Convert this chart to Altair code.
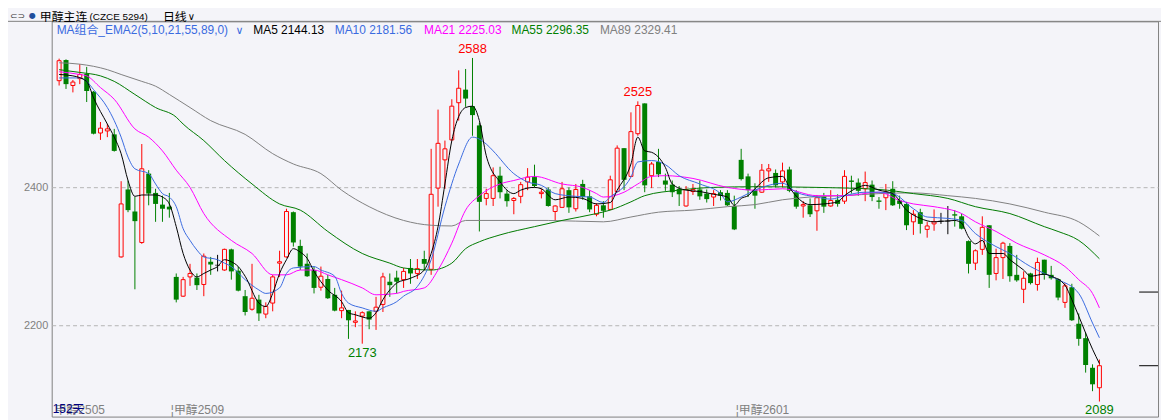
import altair as alt
import pandas as pd

# ---------------- data: daily candles, index 1..152 ----------------
opens = [2555, 2585, 2548, 2558, 2565, 2539, 2479, 2482, 2477, 2299,
         2397, 2365, 2320, 2420, 2392, 2375, 2372, 2270, 2242, 2270,
         2269, 2259, 2292, 2287, 2280, 2310, 2279, 2242, 2223, 2237,
         2216, 2232, 2290, 2299, 2364, 2315, 2289, 2280, 2255, 2267,
         2244, 2221, 2222, 2204, 2213, 2220, 2220, 2230, 2263, 2269,
         2266, 2283, 2275, 2296, 2281, 2399, 2440, 2469, 2523, 2542,
         2518, 2490, 2384, 2384, 2417, 2391, 2381, 2387, 2408, 2415,
         2391, 2397, 2365, 2371, 2396, 2369, 2405, 2387, 2361, 2374,
         2368, 2394, 2457, 2416, 2478, 2522, 2417, 2437, 2410, 2404,
         2398, 2373, 2394, 2397, 2391, 2386, 2393, 2392, 2373, 2440,
         2416, 2396, 2393, 2424, 2421, 2408, 2426, 2393, 2373, 2374,
         2366, 2387, 2373, 2382, 2380, 2410, 2407, 2398, 2404, 2381,
         2385, 2398, 2381, 2376, 2350, 2364, 2339, 2347, 2351, 2351,
         2361, 2358, 2322, 2290, 2310, 2345, 2275, 2298, 2315, 2273,
         2252, 2275, 2259, 2295, 2273, 2267, 2233, 2255, 2202, 2181,
         2138, 2109]
highs = [2587, 2586, 2556, 2579, 2575, 2540, 2495, 2492, 2485, 2409,
         2410, 2386, 2463, 2425, 2398, 2388, 2392, 2275, 2270, 2289,
         2275, 2304, 2299, 2302, 2311, 2311, 2285, 2251, 2289, 2244,
         2233, 2273, 2308, 2369, 2365, 2324, 2304, 2285, 2285, 2273,
         2254, 2250, 2222, 2220, 2220, 2220, 2241, 2276, 2275, 2279,
         2283, 2296, 2296, 2308, 2456, 2513, 2468, 2528, 2570, 2572,
         2588, 2494, 2398, 2429, 2430, 2396, 2386, 2408, 2428, 2433,
         2398, 2400, 2374, 2408, 2400, 2405, 2411, 2396, 2377, 2380,
         2417, 2461, 2457, 2509, 2525, 2522, 2437, 2456, 2420, 2410,
         2402, 2402, 2405, 2410, 2397, 2396, 2396, 2396, 2388, 2456,
         2420, 2406, 2434, 2434, 2426, 2436, 2430, 2396, 2380, 2384,
         2389, 2392, 2396, 2390, 2425, 2417, 2413, 2423, 2410, 2386,
         2405, 2409, 2388, 2379, 2367, 2369, 2350, 2368, 2363, 2373,
         2367, 2362, 2323, 2310, 2358, 2345, 2311, 2321, 2319, 2302,
         2278, 2276, 2298, 2295, 2286, 2268, 2261, 2260, 2217, 2189,
         2143, 2150]
lows = [2548, 2543, 2538, 2550, 2524, 2477, 2469, 2473, 2452, 2298,
        2364, 2252, 2318, 2374, 2350, 2350, 2356, 2233, 2241, 2257,
        2251, 2242, 2273, 2278, 2279, 2266, 2249, 2214, 2221, 2206,
        2210, 2220, 2270, 2298, 2314, 2280, 2270, 2246, 2250, 2238,
        2220, 2210, 2180, 2197, 2173, 2194, 2193, 2219, 2241, 2246,
        2254, 2260, 2267, 2280, 2273, 2372, 2398, 2468, 2497, 2517,
        2475, 2336, 2374, 2373, 2384, 2372, 2361, 2377, 2396, 2400,
        2384, 2372, 2352, 2371, 2363, 2365, 2382, 2364, 2358, 2356,
        2367, 2393, 2396, 2415, 2475, 2393, 2399, 2415, 2395, 2386,
        2373, 2372, 2389, 2382, 2378, 2373, 2381, 2373, 2338, 2410,
        2386, 2369, 2392, 2408, 2400, 2400, 2393, 2369, 2356, 2357,
        2337, 2363, 2372, 2372, 2376, 2391, 2388, 2380, 2380, 2369,
        2367, 2373, 2369, 2338, 2331, 2333, 2327, 2337, 2347, 2332,
        2343, 2339, 2275, 2280, 2302, 2254, 2265, 2267, 2263, 2263,
        2232, 2259, 2250, 2266, 2266, 2236, 2225, 2206, 2170, 2131,
        2104, 2089]
closes = [2584, 2550, 2553, 2564, 2540, 2478, 2486, 2485, 2453, 2376,
          2367, 2351, 2427, 2391, 2376, 2369, 2368, 2237, 2266, 2275,
          2258, 2300, 2288, 2287, 2310, 2278, 2250, 2219, 2239, 2217,
          2227, 2270, 2292, 2365, 2320, 2285, 2271, 2254, 2271, 2239,
          2221, 2225, 2207, 2206, 2218, 2208, 2226, 2270, 2258, 2263,
          2278, 2275, 2282, 2289, 2390, 2464, 2456, 2518, 2544, 2529,
          2505, 2379, 2391, 2417, 2393, 2380, 2384, 2404, 2415, 2402,
          2393, 2373, 2373, 2398, 2371, 2397, 2386, 2368, 2374, 2366,
          2411, 2457, 2411, 2481, 2519, 2403, 2434, 2419, 2404, 2393,
          2390, 2397, 2397, 2387, 2383, 2391, 2388, 2374, 2339, 2412,
          2396, 2388, 2425, 2427, 2403, 2424, 2395, 2372, 2375, 2361,
          2385, 2372, 2381, 2376, 2416, 2408, 2395, 2407, 2386, 2379,
          2393, 2374, 2376, 2345, 2361, 2347, 2344, 2350, 2351, 2351,
          2359, 2340, 2289, 2308, 2342, 2273, 2298, 2319, 2271, 2265,
          2268, 2261, 2291, 2273, 2268, 2240, 2257, 2207, 2180, 2142,
          2114, 2141]

# ---------------- moving averages (index, value) ----------------
ma5_i = [1, 3, 5, 6, 8, 9, 10, 11, 12, 13, 15, 16, 17, 18, 19, 20, 21, 22, 23, 24, 25, 26, 27, 28,
         30, 31, 32, 33, 34, 35, 36, 37, 38, 40, 42, 43, 44, 46, 47, 48, 49, 50, 52, 54, 55, 56,
         57, 58, 60, 61, 62, 63, 65, 67, 68, 70, 71, 73, 75, 77, 79, 81, 82, 84, 85, 86, 87, 89,
         90, 92, 94, 96, 98, 99, 100, 101, 102, 104, 106, 107, 110, 112, 114, 115, 117, 118, 120,
         122, 124, 126, 128, 131, 132, 133, 134, 135, 136, 138, 139, 141, 142, 144, 145, 147, 148,
         149, 151, 152]
ma5_v = [2564, 2562, 2554, 2530, 2492, 2473, 2449, 2410, 2387, 2389, 2389, 2386, 2376, 2343, 2304,
         2280, 2270, 2275, 2280, 2285, 2295, 2292, 2285, 2271, 2232, 2227, 2246, 2275, 2295, 2311,
         2306, 2297, 2278, 2251, 2234, 2218, 2215, 2210, 2218, 2237, 2251, 2261, 2268, 2280, 2304,
         2343, 2405, 2468, 2516, 2518, 2497, 2446, 2408, 2391, 2396, 2400, 2398, 2382, 2386, 2384,
         2376, 2378, 2396, 2434, 2473, 2453, 2451, 2429, 2405, 2396, 2394, 2390, 2386, 2374, 2384,
         2388, 2398, 2414, 2416, 2400, 2375, 2376, 2379, 2388, 2400, 2403, 2396, 2391, 2367, 2355,
         2350, 2352, 2348, 2328, 2318, 2323, 2304, 2304, 2295, 2280, 2271, 2274, 2271, 2258, 2237,
         2213, 2165, 2144.13]

ma10_i = [1, 4, 5, 6, 8, 9, 10, 11, 12, 14, 15, 16, 17, 18, 19, 20, 21, 22, 24, 25, 26, 28, 30, 31,
          33, 34, 35, 38, 39, 41, 42, 43, 45, 47, 48, 50, 51, 53, 55, 57, 59, 61, 63, 64, 67, 69,
          71, 73, 76, 78, 80, 81, 84, 85, 87, 89, 91, 94, 97, 98, 100, 102, 103, 106, 108, 111,
          113, 115, 118, 120, 122, 125, 127, 130, 132, 134, 137, 139, 142, 144, 146, 149, 151, 152]
ma10_v = [2559, 2559, 2554, 2542, 2516, 2497, 2473, 2444, 2427, 2420, 2405, 2391, 2386, 2372, 2340,
          2323, 2309, 2299, 2295, 2290, 2285, 2266, 2251, 2246, 2254, 2275, 2283, 2285, 2280, 2271,
          2246, 2232, 2225, 2220, 2225, 2234, 2242, 2256, 2295, 2372, 2434, 2473, 2463, 2453, 2420,
          2408, 2403, 2391, 2387, 2386, 2378, 2386, 2415, 2437, 2439, 2433, 2417, 2405, 2391, 2379,
          2386, 2396, 2400, 2406, 2393, 2386, 2383, 2388, 2393, 2393, 2391, 2369, 2357, 2355, 2352,
          2333, 2314, 2304, 2285, 2275, 2266, 2246, 2203, 2181.56]

ma21_i = [1, 4, 5, 7, 9, 12, 14, 16, 18, 20, 22, 26, 29, 32, 34, 36, 38, 40, 42, 45, 47, 50, 51,
          54, 56, 58, 60, 62, 65, 67, 70, 74, 77, 79, 80, 83, 85, 87, 89, 93, 98, 102, 106, 111,
          115, 120, 123, 125, 128, 132, 134, 137, 140, 144, 147, 149, 151, 152]
ma21_v = [2568, 2564, 2562, 2545, 2528, 2485, 2473, 2453, 2425, 2400, 2362, 2323, 2304, 2273, 2273,
          2280, 2280, 2273, 2266, 2254, 2244, 2246, 2249, 2254, 2280, 2319, 2367, 2388, 2405, 2410,
          2416, 2405, 2400, 2391, 2386, 2393, 2405, 2416, 2417, 2413, 2400, 2396, 2398, 2388, 2388,
          2393, 2381, 2376, 2372, 2362, 2350, 2336, 2319, 2302, 2285, 2266, 2246, 2225.03]

ma55_i = [1, 4, 7, 9, 12, 15, 18, 19, 22, 25, 29, 33, 36, 40, 45, 49, 51, 55, 58, 60, 62, 65, 70,
          74, 79, 81, 84, 86, 91, 96, 102, 111, 120, 125, 130, 134, 139, 144, 146, 149, 152]
ma55_v = [2571, 2567, 2562, 2554, 2535, 2516, 2502, 2492, 2468, 2439, 2405, 2376, 2367, 2336, 2304,
          2290, 2283, 2280, 2290, 2311, 2321, 2331, 2343, 2352, 2362, 2367, 2379, 2388, 2396, 2400,
          2401, 2400, 2397, 2391, 2384, 2372, 2362, 2343, 2336, 2323, 2296.35]

ma89_i = [1, 4, 8, 10, 13, 15, 17, 20, 23, 28, 32, 35, 39, 42, 46, 51, 55, 58, 60, 66, 72, 80, 84,
          88, 93, 98, 102, 106, 110, 115, 120, 125, 130, 134, 139, 144, 149, 152]
ma89_v = [2581, 2579, 2571, 2564, 2554, 2547, 2535, 2516, 2497, 2477, 2449, 2434, 2420, 2396, 2372,
          2352, 2345, 2344, 2352, 2352, 2352, 2350, 2357, 2364, 2367, 2372, 2375, 2382, 2386, 2388,
          2391, 2392, 2388, 2384, 2376, 2364, 2350, 2329.41]

# extreme labels
hi_i = [61, 85]
hi_v = [2588, 2525]
lo_i = [45, 152]
lo_v = [2173, 2089]

# contract roll labels (index where each contract starts)
roll_i = [17.5, 99.5]
roll_t = ["¦甲醇2509", "¦甲醇2601"]
first_label = "甲醇2505"

# right-edge price markers
mark_v = [2248, 2141]

legend_names = ["MA5 2144.13", "MA10 2181.56", "MA21 2225.03", "MA55 2296.35", "MA89 2329.41"]

# ---------------- style ----------------
BG = "#f4f4f9"
RED = "#ff0000"
GREEN = "#008000"
W, H = 1114, 398
XDOM = [0.642857, 159.785714]
YDOM = [2067.1, 2641.2]
FONT = "Liberation Sans, Noto Sans CJK SC, sans-serif"
CJK = "Noto Sans CJK SC, sans-serif"

xs = alt.Scale(domain=XDOM, nice=False, zero=False)
ys = alt.Scale(domain=YDOM, nice=False, zero=False)
yaxis = alt.Axis(values=[2200, 2400], format="d", grid=True, gridDash=[4, 3],
                 gridColor="#b4b4b4", gridWidth=1, domain=False, ticks=False,
                 labelColor="#808080", labelFontSize=11, labelFont=FONT, labelPadding=4,
                 title=None)


def X(f):
    return alt.X(f, type="quantitative", scale=xs, axis=None)


def Y(f):
    return alt.Y(f, type="quantitative", scale=ys, axis=yaxis)


df = pd.DataFrame({"i": list(range(1, len(opens) + 1)), "o": opens, "h": highs,
                   "l": lows, "c": closes})
df["dir"] = ["up" if c > o else ("down" if c < o else "flat") for o, c in zip(opens, closes)]

dirscale = alt.Scale(domain=["up", "down", "flat"], range=[RED, GREEN, "#000000"])

base = alt.Chart(df)
wicks = base.mark_rule(strokeWidth=1).encode(
    x=X("i"), y=Y("l"), y2="h", color=alt.Color("dir:N", scale=dirscale, legend=None))
down = base.transform_filter("datum.dir == 'down'").mark_bar(
    size=5, orient="vertical", color=GREEN).encode(x=X("i"), y=Y("o"), y2="c")
up = base.transform_filter("datum.dir == 'up'").mark_bar(
    size=4, orient="vertical", fill=BG, stroke=RED, strokeWidth=1).encode(x=X("i"), y=Y("o"), y2="c")
flat = base.transform_filter("datum.dir == 'flat'").mark_tick(
    orient="horizontal", size=5, thickness=1, color="#000000").encode(x=X("i"), y=Y("o"))


def ma_line(ii, vv, color):
    d = pd.DataFrame({"i": ii, "v": vv})
    return alt.Chart(d).mark_line(strokeWidth=1, color=color, interpolate="monotone").encode(
        x=X("i"), y=Y("v"))


lines = [ma_line(ma89_i, ma89_v, "#808080"),
         ma_line(ma55_i, ma55_v, "#007a00"),
         ma_line(ma21_i, ma21_v, "#ff00ff"),
         ma_line(ma10_i, ma10_v, "#3a6be0"),
         ma_line(ma5_i, ma5_v, "#000000")]

hi_df = pd.DataFrame({"i": hi_i, "v": hi_v, "t": [str(v) for v in hi_v]})
lo_df = pd.DataFrame({"i": lo_i, "v": lo_v, "t": [str(v) for v in lo_v]})
hi_txt = alt.Chart(hi_df).mark_text(font=FONT, fontSize=13, color=RED, dy=-9,
                                    baseline="middle").encode(x=X("i"), y=Y("v"), text="t:N")
lo_txt = alt.Chart(lo_df).mark_text(font=FONT, fontSize=13, color=GREEN, dy=9,
                                    baseline="middle").encode(x=X("i"), y=Y("v"), text="t:N")

roll_df = pd.DataFrame({"i": roll_i, "t": roll_t})
roll_txt = alt.Chart(roll_df).mark_text(font=FONT, fontSize=12, color="#808080", align="left",
                                        baseline="middle", dx=-2).encode(
    x=X("i"), y=alt.value(391), text="t:N")

mk_df = pd.DataFrame({"v": mark_v})
marks = alt.Chart(mk_df).mark_rule(color="#000000", strokeWidth=1).encode(
    x=alt.value(W - 19), x2=alt.value(W), y=Y("v"))


def label(text, px, py, color, size=12, font=FONT, align="left"):
    return alt.Chart(pd.DataFrame({"t": [text]})).mark_text(
        font=font, fontSize=size, color=color, align=align, baseline="middle").encode(
        x=alt.value(px), y=alt.value(py), text="t:N")


top_line = alt.Chart(pd.DataFrame({"a": [0]})).mark_rule(color="#808080", strokeWidth=1).encode(
    x=alt.value(-44), x2=alt.value(W + 3), y=alt.value(0))

texts = [
    label("⊂⊃", -42, -5, "#333333", size=9, font="DejaVu Sans"),
    label("●", -23, -5, "#1f4e9c", size=8, font="DejaVu Sans"),
    label("甲醇主连", -12, -4.5, "#000000", size=12, font=CJK),
    label("(CZCE 5294)", 38, -4.5, "#000000", size=10, font="Liberation Sans"),
    label("日线", 112, -4.5, "#000000", size=12, font=CJK),
    label("∨", 137, -4.5, "#000000", size=10, font="DejaVu Sans"),
    label("MA组合_EMA2(5,10,21,55,89,0)", 5, 9, "#3a6be0"),
    label("∨", 185, 10, "#3a6be0", size=11, font="DejaVu Sans"),
    label(legend_names[0], 203, 9, "#000000"),
    label(legend_names[1], 285, 9, "#3a6be0"),
    label(legend_names[2], 375, 9, "#ff00ff"),
    label(legend_names[3], 463, 9, "#008000"),
    label(legend_names[4], 552, 9, "#808080"),
    label(first_label, 3, 391, "#808080"),
    label("152天", 1, 390, "#000080"),
]

chart = alt.layer(
    wicks, down, up, flat, *lines, hi_txt, lo_txt, roll_txt, marks, top_line, *texts
).properties(
    width=W, height=H,
    autosize=alt.AutoSizeParams(type="none"),
    padding={"left": 44, "top": 12, "right": 3, "bottom": 2},
).configure(background=BG).configure_view(stroke="#808080", strokeWidth=1)

chart.save("out.html", embed_options={"renderer": "svg", "actions": False})
